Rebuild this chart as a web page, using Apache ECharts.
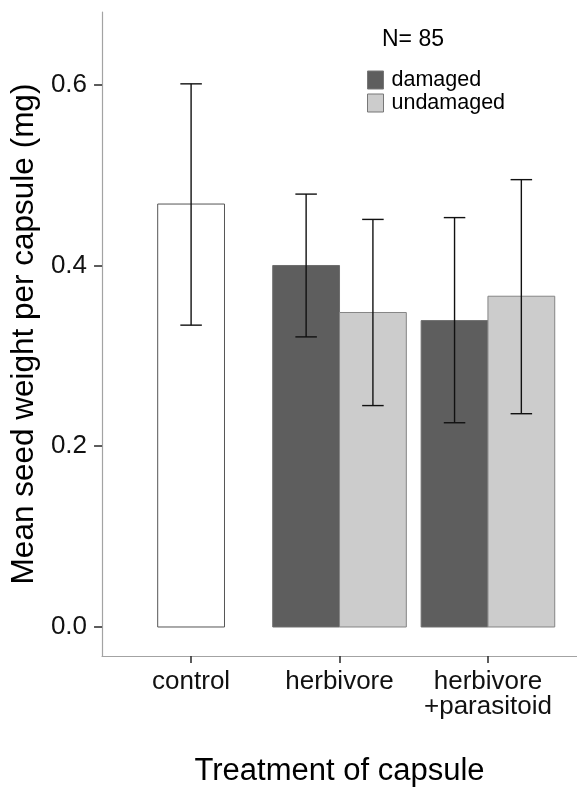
<!DOCTYPE html>
<html>
<head>
<meta charset="utf-8">
<style>
  html, body { margin: 0; padding: 0; background: #fff; }
  #chart { width: 577px; height: 794px; }
</style>
<script src="https://cdn.jsdelivr.net/npm/echarts@6/dist/echarts.min.js"></script>
</head>
<body>
<div id="chart"></div>
<script>
// Treatments along the x axis
const categories = ['control', 'herbivore', 'herbivore\n+parasitoid'];
// Y axis tick labels
const yTicks = [0.0, 0.2, 0.4, 0.6];
const sampleSize = 85;

// Mean seed weight per capsule (mg) with error-bar bounds
const controlMean  = [0.468, null, null];
const controlLower = [0.334, null, null];
const controlUpper = [0.601, null, null];

const damagedMean  = [null, 0.400, 0.339];
const damagedLower = [null, 0.321, 0.226];
const damagedUpper = [null, 0.479, 0.453];

const undamagedMean  = [null, 0.348, 0.366];
const undamagedLower = [null, 0.245, 0.236];
const undamagedUpper = [null, 0.451, 0.495];

const FONT = '"Liberation Sans", Arial, Helvetica, sans-serif';
const BAR_W = 0.45;   // bar width in category units
const CAP_W = 0.145;  // error-bar cap width in category units

// rows: [x position, mean, lower, upper]
function rows(mean, lower, upper, offset) {
  const out = [];
  mean.forEach((m, i) => {
    if (m == null) return;
    out.push([i + 1 + offset, m, lower[i], upper[i]]);
  });
  return out;
}

function barSeries(name, data, fill, stroke) {
  return {
    name: name,
    type: 'custom',
    data: data,
    encode: { x: 0, y: [1, 2, 3] },
    itemStyle: { color: fill, borderColor: stroke },
    z: 2,
    renderItem: function (params, api) {
      const x = api.value(0), m = api.value(1);
      const p0 = api.coord([x - BAR_W / 2, m]);
      const p1 = api.coord([x + BAR_W / 2, 0]);
      return {
        type: 'rect',
        shape: { x: p0[0], y: p0[1], width: p1[0] - p0[0], height: p1[1] - p0[1] },
        style: { fill: fill, stroke: stroke, lineWidth: 1 }
      };
    }
  };
}

function errorSeries(data) {
  return {
    type: 'custom',
    data: data,
    encode: { x: 0, y: [2, 3] },
    silent: true,
    z: 3,
    renderItem: function (params, api) {
      const x = api.value(0);
      const lo = api.coord([x, api.value(2)]);
      const hi = api.coord([x, api.value(3)]);
      const half = (api.coord([x + CAP_W / 2, 0])[0] - api.coord([x, 0])[0]);
      const st = { stroke: '#111', lineWidth: 1.4, fill: null };
      return {
        type: 'group',
        children: [
          { type: 'line', shape: { x1: lo[0], y1: lo[1], x2: hi[0], y2: hi[1] }, style: st },
          { type: 'line', shape: { x1: lo[0] - half, y1: lo[1], x2: lo[0] + half, y2: lo[1] }, style: st },
          { type: 'line', shape: { x1: hi[0] - half, y1: hi[1], x2: hi[0] + half, y2: hi[1] }, style: st }
        ]
      };
    }
  };
}

const controlRows   = rows(controlMean, controlLower, controlUpper, 0);
const damagedRows   = rows(damagedMean, damagedLower, damagedUpper, -BAR_W / 2);
const undamagedRows = rows(undamagedMean, undamagedLower, undamagedUpper, BAR_W / 2);

const chart = echarts.init(document.getElementById('chart'), null, { renderer: 'canvas' });

chart.setOption({
  animation: false,
  backgroundColor: '#fff',
  textStyle: { fontFamily: FONT },
  title: {
    text: 'N= ' + sampleSize,
    left: 382,
    top: 28,
    padding: 0,
    textStyle: { fontFamily: FONT, fontSize: 23, fontWeight: 'normal', color: '#000' }
  },
  legend: {
    orient: 'vertical',
    left: 367,
    top: 69,
    padding: 0,
    itemWidth: 16,
    itemHeight: 18,
    itemGap: 1,
    icon: 'rect',
    selectedMode: false,
    data: [
      { name: 'damaged', itemStyle: { color: '#5e5e5e', borderColor: '#777', borderWidth: 1 } },
      { name: 'undamaged', itemStyle: { color: '#cccccc', borderColor: '#777', borderWidth: 1 } }
    ],
    textStyle: { fontFamily: FONT, fontSize: 21.5, lineHeight: 18, color: '#000', padding: [0, 0, 0, 3] }
  },
  grid: { left: 97.5, top: 12, width: 484.8, height: 644, containLabel: false },
  xAxis: {
    type: 'value',
    min: 0.4,
    max: 3.6,
    name: 'Treatment of capsule',
    nameLocation: 'middle',
    nameGap: 100,
    nameTextStyle: { fontFamily: FONT, fontSize: 31, color: '#000' },
    axisLine: { show: true, onZero: false, lineStyle: { color: '#a3a3a3', width: 1.2 } },
    axisTick: {
      show: true, length: 7,
      customValues: categories.map((c, i) => i + 1),
      lineStyle: { color: '#333', width: 1.6 }
    },
    axisLabel: {
      customValues: categories.map((c, i) => i + 1),
      formatter: v => categories[Math.round(v) - 1],
      fontFamily: FONT, fontSize: 26, lineHeight: 25, margin: 13, color: '#111'
    },
    splitLine: { show: false }
  },
  yAxis: {
    type: 'value',
    min: -0.0321,
    max: 0.6805,
    name: 'Mean seed weight per capsule (mg)',
    nameLocation: 'middle',
    nameRotate: 90,
    nameGap: 56,
    nameTextStyle: { fontFamily: FONT, fontSize: 31.5, color: '#000' },
    axisLine: { show: true, onZero: false, lineStyle: { color: '#a3a3a3', width: 1.2 } },
    axisTick: {
      show: true, length: 8,
      customValues: yTicks,
      lineStyle: { color: '#333', width: 1.6 }
    },
    axisLabel: {
      customValues: yTicks,
      formatter: v => v.toFixed(1),
      fontFamily: FONT, fontSize: 26, margin: 15, color: '#111'
    },
    splitLine: { show: false }
  },
  series: [
    barSeries('control', controlRows, '#ffffff', '#555555'),
    barSeries('damaged', damagedRows, '#5e5e5e', '#6e6e6e'),
    barSeries('undamaged', undamagedRows, '#cccccc', '#858585'),
    errorSeries(controlRows),
    errorSeries(damagedRows),
    errorSeries(undamagedRows)
  ]
});
</script>
</body>
</html>
